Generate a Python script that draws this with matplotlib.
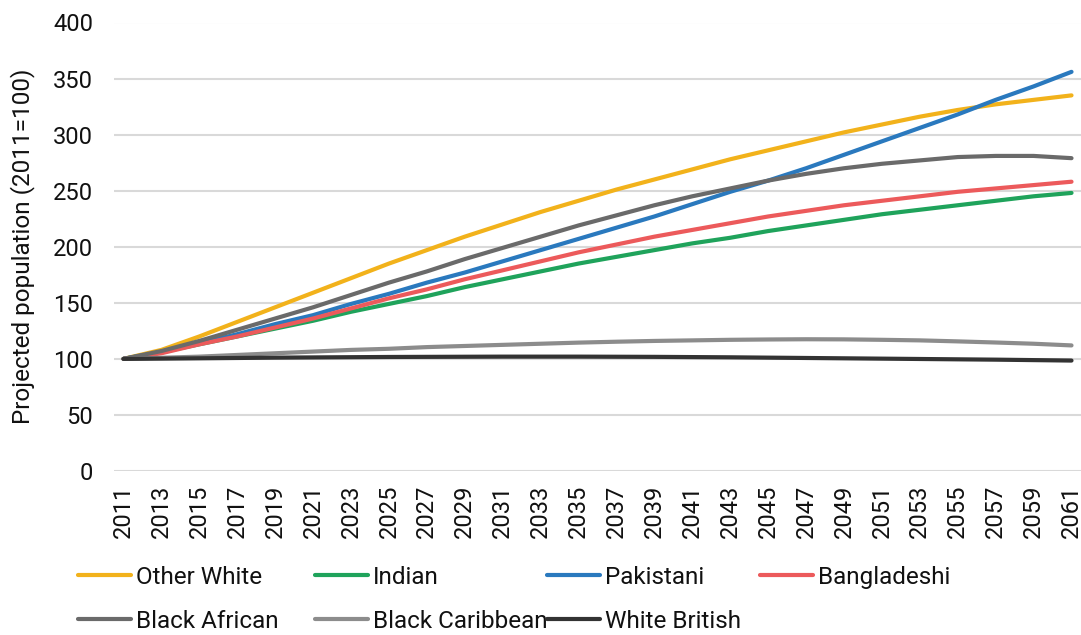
import matplotlib
matplotlib.use("Agg")
import matplotlib.pyplot as plt
import numpy as np

plt.rcParams['font.family'] = ['Roboto', 'DejaVu Sans']

# data, every second year
years = list(range(2011, 2062, 2))

other_white = [100, 108, 120, 133, 146, 159, 172, 185, 197, 209, 220, 231, 241,
               251, 260, 269, 278, 286, 294, 302, 309, 316, 322, 327, 331, 335]
indian = [100, 106, 113, 120, 127, 134, 142, 149, 156, 164, 171, 178, 185,
          191, 197, 203, 208, 214, 219, 224, 229, 233, 237, 241, 245, 248]
pakistani = [100, 106, 114, 122, 131, 139, 149, 158, 168, 177, 187, 197, 207,
             217, 227, 238, 249, 259, 270, 282, 294, 306, 318, 331, 343, 356]
bangladeshi = [100, 105, 113, 120, 128, 136, 145, 154, 162, 171, 179, 187, 195,
               202, 209, 215, 221, 227, 232, 237, 241, 245, 249, 252, 255, 258]
black_african = [100, 107, 116, 126, 136, 146, 157, 168, 178, 189, 199, 209, 219,
                 228, 237, 245, 252, 259, 265, 270, 274, 277, 280, 281, 281, 279]
black_caribbean = [100, 101, 102, 103.5, 105, 106.5, 108, 109, 110.5, 111.5, 112.5,
                   113.5, 114.5, 115.3, 116, 116.5, 117, 117.3, 117.5, 117.4, 117,
                   116.5, 115.6, 114.6, 113.5, 112]
white_british = [100, 100.2, 100.5, 100.8, 101.1, 101.3, 101.5, 101.7, 101.8, 101.9,
                 102, 102, 102, 101.9, 101.8, 101.6, 101.4, 101.1, 100.8, 100.5,
                 100.2, 99.9, 99.6, 99.3, 98.9, 98.5]

series = [
    ("Other White", other_white, "#F2B21B"),
    ("Indian", indian, "#1FA35B"),
    ("Pakistani", pakistani, "#2A79BE"),
    ("Bangladeshi", bangladeshi, "#EC5A5B"),
    ("Black African", black_african, "#6A6A6A"),
    ("Black Caribbean", black_caribbean, "#8C8C8C"),
    ("White British", white_british, "#333333"),
]

FS = 17
W, H = 1081, 635
fig = plt.figure(figsize=(W / 100, H / 100), dpi=100)
ax = fig.add_axes([114 / W, 1 - 471 / H, (W - 114) / W, (471 - 22.5) / H])

handles = {}
for name, vals, col in series:
    ln, = ax.plot(years, vals, color=col, lw=3, solid_capstyle='round', label=name, zorder=3)
    handles[name] = ln

ax.set_xlim(2010.5, 2061.5)
ax.set_ylim(0, 400)
ax.set_yticks(np.arange(0, 401, 50))
ax.set_xticks(years)
ax.set_xticklabels([str(y) for y in years], rotation=90)
ax.grid(axis='y', color='#D9D9D9', lw=1.5, zorder=0)
ax.set_axisbelow(True)
for s in ax.spines.values():
    s.set_visible(False)
ax.tick_params(axis='both', length=0, labelsize=FS, colors='#111111')
ax.tick_params(axis='y', pad=15)
ax.tick_params(axis='x', pad=10)

ax.set_ylabel("Projected population (2011=100)", fontsize=17.5, color='#111111')
ax.yaxis.set_label_coords((35 - 114) / (W - 114), 0.5)

# legend laid out in columns like the original
columns = [
    (78, ["Other White", "Black African"]),
    (315, ["Indian", "Black Caribbean"]),
    (547, ["Pakistani", "White British"]),
    (760, ["Bangladeshi"]),
]
for x0, names in columns:
    leg = fig.legend([handles[n] for n in names], names, loc='upper left',
                     bbox_to_anchor=(x0 / W, 1 - 566 / H), frameon=False,
                     fontsize=17.5, handlelength=2.2, handletextpad=0.2,
                     labelspacing=0.85, borderpad=0, borderaxespad=0)
    for t in leg.get_texts():
        t.set_color('#111111')

fig.savefig("out.png", dpi=100)
